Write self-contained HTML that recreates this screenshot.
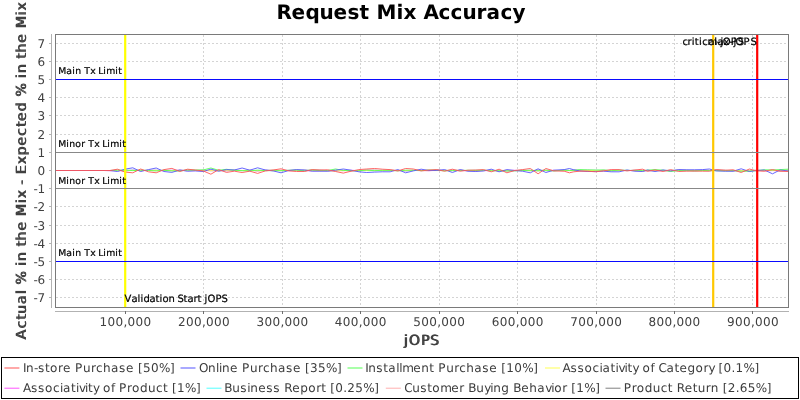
<!DOCTYPE html>
<html lang="en"><head><meta charset="utf-8"><title>Request Mix Accuracy</title>
<style>html,body{margin:0;padding:0;background:#fff}body{width:800px;height:400px;overflow:hidden}svg{display:block;will-change:transform}text{font-family:'DejaVu Sans','Liberation Sans',sans-serif;text-rendering:geometricPrecision;font-kerning:none;white-space:pre}</style></head><body>
<svg width="800" height="400" viewBox="0 0 800 400">
<rect x="0" y="0" width="800" height="400" fill="#fff"/>
<g font-size="20" font-weight="bold" fill="#000">
<text x="276.4 291.4 305.4 319.4 333.4 347.4 359.4 369.4 376.4 396.4 403.4 416.4 423.4 438.4 450.4 462.4 476.4 486.4 500.4 512.4" y="19.2">Request Mix Accuracy</text>
</g>
<g stroke="#d4d4d4" stroke-width="1" stroke-dasharray="2,2" shape-rendering="crispEdges" fill="none">
<line x1="56" y1="297.5" x2="788" y2="297.5"/>
<line x1="56" y1="279.5" x2="788" y2="279.5"/>
<line x1="56" y1="261.5" x2="788" y2="261.5"/>
<line x1="56" y1="243.5" x2="788" y2="243.5"/>
<line x1="56" y1="225.5" x2="788" y2="225.5"/>
<line x1="56" y1="206.5" x2="788" y2="206.5"/>
<line x1="56" y1="188.5" x2="788" y2="188.5"/>
<line x1="56" y1="170.5" x2="788" y2="170.5"/>
<line x1="56" y1="152.5" x2="788" y2="152.5"/>
<line x1="56" y1="134.5" x2="788" y2="134.5"/>
<line x1="56" y1="115.5" x2="788" y2="115.5"/>
<line x1="56" y1="97.5" x2="788" y2="97.5"/>
<line x1="56" y1="79.5" x2="788" y2="79.5"/>
<line x1="56" y1="61.5" x2="788" y2="61.5"/>
<line x1="56" y1="43.5" x2="788" y2="43.5"/>
<line x1="125.5" y1="35" x2="125.5" y2="307"/>
<line x1="203.5" y1="35" x2="203.5" y2="307"/>
<line x1="282.5" y1="35" x2="282.5" y2="307"/>
<line x1="360.5" y1="35" x2="360.5" y2="307"/>
<line x1="439.5" y1="35" x2="439.5" y2="307"/>
<line x1="517.5" y1="35" x2="517.5" y2="307"/>
<line x1="596.5" y1="35" x2="596.5" y2="307"/>
<line x1="674.5" y1="35" x2="674.5" y2="307"/>
<line x1="752.5" y1="35" x2="752.5" y2="307"/>
</g>
<clipPath id="pc"><rect x="56" y="35" width="732" height="272"/></clipPath>
<g fill="none" stroke-width="0.9" stroke-linejoin="round" clip-path="url(#pc)">
<polyline stroke="#808080" points="56.0,170.5 104.0,170.5 110.0,170.6 117.5,170.4 125.0,170.8 132.8,170.2 140.6,170.7 148.5,170.3 156.2,170.3 164.0,170.4 171.9,170.5 179.8,170.3 187.5,170.3 195.3,170.5 203.1,170.2 210.9,170.7 218.7,170.6 226.5,170.7 234.3,170.3 242.1,170.6 249.8,170.3 257.6,170.8 265.4,170.3 273.2,170.3 281.0,170.6 288.8,170.5 296.6,170.4 304.4,170.2 312.2,170.2 319.9,170.2 327.7,170.7 335.5,170.8 343.3,170.4 351.1,170.8 358.9,170.7 366.7,170.3 374.5,170.2 382.3,170.6 390.1,170.4 397.9,170.4 405.6,170.8 413.4,170.4 421.2,170.5 429.0,170.6 436.8,170.2 444.6,170.5 452.4,170.3 460.2,170.3 468.0,170.7 475.8,170.7 483.5,170.6 491.3,170.3 499.1,170.8 506.9,170.8 514.7,170.7 522.5,170.3 530.3,170.7 538.1,170.2 545.9,170.5 553.6,170.8 564.2,170.3 569.4,170.5 573.8,170.2 579.9,170.3 587.8,170.8 595.6,170.8 603.5,170.3 611.2,170.7 619.1,170.5 627.0,170.6 634.9,170.3 642.6,170.8 647.5,170.7 655.0,170.7 663.1,170.6 670.6,170.7 678.8,170.2 686.2,170.3 694.4,170.8 702.5,170.4 709.4,170.5 716.2,170.2 725.6,170.4 733.1,170.8 741.2,170.8 749.4,170.4 756.2,170.4 764.4,170.6 772.5,170.4 780.0,170.8 788.0,170.4"/>
<polyline stroke="#ffafaf" points="56.0,170.5 104.0,170.5 110.0,170.5 117.5,170.3 125.0,170.7 132.8,170.5 140.6,170.5 148.5,170.5 156.2,170.4 164.0,170.6 171.9,170.7 179.8,170.6 187.5,170.3 195.3,170.5 203.1,170.6 210.9,170.7 218.7,170.6 226.5,170.4 234.3,170.5 242.1,170.5 249.8,170.6 257.6,170.7 265.4,170.7 273.2,170.4 281.0,170.6 288.8,170.4 296.6,170.3 304.4,170.5 312.2,170.7 319.9,170.7 327.7,170.6 335.5,170.7 343.3,170.6 351.1,170.7 358.9,170.5 366.7,170.5 374.5,170.4 382.3,170.7 390.1,170.4 397.9,170.5 405.6,170.6 413.4,170.4 421.2,170.7 429.0,170.6 436.8,170.5 444.6,170.6 452.4,170.6 460.2,170.6 468.0,170.6 475.8,170.7 483.5,170.4 491.3,170.6 499.1,170.4 506.9,170.4 514.7,170.5 522.5,170.6 530.3,170.5 538.1,170.7 545.9,170.6 553.6,170.6 564.2,170.5 569.4,170.7 573.8,170.6 579.9,170.7 587.8,170.6 595.6,170.6 603.5,170.4 611.2,170.3 619.1,170.5 627.0,170.4 634.9,170.6 642.6,170.4 647.5,170.4 655.0,170.5 663.1,170.4 670.6,170.5 678.8,170.3 686.2,170.4 694.4,170.3 702.5,170.5 709.4,170.4 716.2,170.5 725.6,170.6 733.1,170.4 741.2,170.5 749.4,170.6 756.2,170.3 764.4,170.7 772.5,170.5 780.0,170.6 788.0,170.4"/>
<polyline stroke="#55ffff" points="56.0,170.5 104.0,170.5 110.0,170.5 117.5,170.6 125.0,170.4 132.8,170.4 140.6,170.5 148.5,170.5 156.2,170.5 164.0,170.5 171.9,170.4 179.8,170.5 187.5,170.6 195.3,170.4 203.1,170.4 210.9,170.4 218.7,170.5 226.5,170.4 234.3,170.4 242.1,170.6 249.8,170.6 257.6,170.4 265.4,170.4 273.2,170.5 281.0,170.5 288.8,170.4 296.6,170.5 304.4,170.5 312.2,170.5 319.9,170.5 327.7,170.6 335.5,170.5 343.3,170.5 351.1,170.5 358.9,170.5 366.7,170.5 374.5,170.6 382.3,170.4 390.1,170.5 397.9,170.5 405.6,170.6 413.4,170.5 421.2,170.6 429.0,170.4 436.8,170.4 444.6,170.4 452.4,170.6 460.2,170.5 468.0,170.5 475.8,170.4 483.5,170.6 491.3,170.5 499.1,170.5 506.9,170.6 514.7,170.5 522.5,170.4 530.3,170.4 538.1,170.5 545.9,170.6 553.6,170.5 564.2,170.5 569.4,170.4 573.8,170.5 579.9,170.6 587.8,170.5 595.6,170.4 603.5,170.4 611.2,170.5 619.1,170.4 627.0,170.4 634.9,170.5 642.6,170.5 647.5,170.4 655.0,170.6 663.1,170.4 670.6,170.4 678.8,170.4 686.2,170.4 694.4,170.4 702.5,170.5 709.4,170.6 716.2,170.4 725.6,170.6 733.1,170.6 741.2,170.6 749.4,170.6 756.2,170.5 764.4,170.4 772.5,170.5 780.0,170.5 788.0,170.6"/>
<polyline stroke="#ff55ff" points="56.0,170.5 104.0,170.5 110.0,170.7 117.5,170.6 125.0,170.6 132.8,170.4 140.6,170.3 148.5,170.5 156.2,170.6 164.0,170.6 171.9,170.3 179.8,170.3 187.5,170.7 195.3,170.6 203.1,170.6 210.9,170.4 218.7,170.4 226.5,170.7 234.3,170.3 242.1,170.5 249.8,170.4 257.6,170.7 265.4,170.3 273.2,170.6 281.0,170.4 288.8,170.4 296.6,170.4 304.4,170.6 312.2,170.7 319.9,170.6 327.7,170.7 335.5,170.4 343.3,170.7 351.1,170.3 358.9,170.6 366.7,170.3 374.5,170.6 382.3,170.4 390.1,170.4 397.9,170.7 405.6,170.6 413.4,170.5 421.2,170.4 429.0,170.7 436.8,170.3 444.6,170.4 452.4,170.6 460.2,170.3 468.0,170.6 475.8,170.7 483.5,170.6 491.3,170.7 499.1,170.6 506.9,170.5 514.7,170.3 522.5,170.6 530.3,170.4 538.1,170.7 545.9,170.4 553.6,170.4 564.2,170.7 569.4,170.5 573.8,170.5 579.9,170.5 587.8,170.3 595.6,170.4 603.5,170.6 611.2,170.4 619.1,170.4 627.0,170.5 634.9,170.6 642.6,170.7 647.5,170.7 655.0,170.3 663.1,170.6 670.6,170.7 678.8,170.4 686.2,170.5 694.4,170.7 702.5,170.4 709.4,170.6 716.2,170.4 725.6,170.6 733.1,170.7 741.2,170.6 749.4,170.6 756.2,170.4 764.4,170.6 772.5,170.6 780.0,170.6 788.0,170.6"/>
<polyline stroke="#ffff55" points="56.0,170.5 104.0,170.5 110.0,170.5 117.5,170.5 125.0,170.6 132.8,170.5 140.6,170.4 148.5,170.5 156.2,170.6 164.0,170.4 171.9,170.6 179.8,170.5 187.5,170.5 195.3,170.4 203.1,170.4 210.9,170.5 218.7,170.6 226.5,170.4 234.3,170.4 242.1,170.5 249.8,170.4 257.6,170.6 265.4,170.5 273.2,170.4 281.0,170.4 288.8,170.6 296.6,170.4 304.4,170.6 312.2,170.4 319.9,170.5 327.7,170.6 335.5,170.6 343.3,170.6 351.1,170.5 358.9,170.5 366.7,170.6 374.5,170.5 382.3,170.5 390.1,170.6 397.9,170.6 405.6,170.5 413.4,170.4 421.2,170.5 429.0,170.4 436.8,170.6 444.6,170.4 452.4,170.5 460.2,170.4 468.0,170.5 475.8,170.6 483.5,170.5 491.3,170.6 499.1,170.6 506.9,170.6 514.7,170.5 522.5,170.4 530.3,170.6 538.1,170.6 545.9,170.5 553.6,170.5 564.2,170.6 569.4,170.5 573.8,170.6 579.9,170.5 587.8,170.5 595.6,170.5 603.5,170.4 611.2,170.5 619.1,170.5 627.0,170.5 634.9,170.5 642.6,170.6 647.5,170.6 655.0,170.4 663.1,170.5 670.6,170.6 678.8,170.5 686.2,170.5 694.4,170.6 702.5,170.6 709.4,170.4 716.2,170.5 725.6,170.6 733.1,170.5 741.2,170.6 749.4,170.6 756.2,170.4 764.4,170.5 772.5,170.5 780.0,170.6 788.0,170.4"/>
<polyline stroke="#55ff55" points="56.0,170.5 104.0,170.5 110.0,170.5 117.5,170.2 125.0,170.1 132.8,170.6 140.6,170.2 148.5,170.5 156.2,170.9 164.0,170.3 171.9,170.9 179.8,170.9 187.5,170.1 195.3,170.1 203.1,170.0 210.9,168.0 218.7,170.3 226.5,169.3 234.3,170.3 242.1,170.6 249.8,170.8 257.6,170.2 265.4,170.6 273.2,170.7 281.0,170.7 288.8,170.3 296.6,170.1 304.4,170.8 312.2,170.1 319.9,170.6 327.7,170.5 335.5,169.0 343.3,170.4 351.1,170.6 358.9,170.7 366.7,170.1 374.5,170.7 382.3,170.3 390.1,170.4 397.9,170.8 405.6,170.2 413.4,170.3 421.2,170.6 429.0,170.1 436.8,170.3 444.6,170.8 452.4,170.6 460.2,170.5 468.0,170.3 475.8,170.4 483.5,170.2 491.3,170.8 499.1,170.7 506.9,170.9 514.7,170.8 522.5,170.5 530.3,170.3 538.1,170.8 545.9,170.2 553.6,170.8 564.2,170.2 569.4,170.5 573.8,170.4 579.9,169.6 587.8,169.8 595.6,170.0 603.5,170.0 611.2,170.7 619.1,170.2 627.0,170.4 634.9,170.6 642.6,170.7 647.5,170.2 655.0,169.6 663.1,170.2 670.6,171.5 678.8,170.5 686.2,170.6 694.4,170.8 702.5,170.5 709.4,170.6 716.2,170.7 725.6,170.8 733.1,170.6 741.2,171.2 749.4,171.2 756.2,170.7 764.4,169.8 772.5,170.0 780.0,169.6 788.0,169.2"/>
<polyline stroke="#5555ff" points="56.0,170.5 104.0,170.5 110.0,170.5 117.5,171.5 125.0,169.2 132.8,167.8 140.6,171.5 148.5,169.6 156.2,168.0 164.0,171.5 171.9,172.4 179.8,170.0 187.5,171.2 195.3,170.9 203.1,171.5 210.9,169.2 218.7,171.2 226.5,169.6 234.3,170.0 242.1,168.0 249.8,170.2 257.6,167.8 265.4,170.0 273.2,170.9 281.0,172.8 288.8,170.5 296.6,169.6 304.4,170.0 312.2,171.2 319.9,171.2 327.7,171.2 335.5,170.2 343.3,169.0 351.1,170.2 358.9,171.8 366.7,172.5 374.5,172.1 382.3,171.8 390.1,171.8 397.9,169.6 405.6,172.8 413.4,170.9 421.2,169.2 429.0,170.5 436.8,170.5 444.6,169.6 452.4,172.5 460.2,169.6 468.0,171.2 475.8,171.5 483.5,170.9 491.3,169.2 499.1,171.8 506.9,169.6 514.7,170.5 522.5,171.2 530.3,172.8 538.1,168.8 545.9,172.5 553.6,170.2 564.2,169.6 569.4,168.5 573.8,169.8 579.9,170.9 587.8,171.5 595.6,171.5 603.5,171.2 611.2,171.8 619.1,171.8 627.0,170.0 634.9,171.2 642.6,171.5 647.5,170.0 655.0,171.5 663.1,170.0 670.6,170.9 678.8,169.6 686.2,169.8 694.4,169.8 702.5,169.6 709.4,169.0 716.2,170.9 725.6,171.2 733.1,171.2 741.2,168.8 749.4,171.5 756.2,170.5 764.4,170.0 772.5,173.8 780.0,170.0 788.0,170.9"/>
<polyline stroke="#ff5555" points="56.0,170.5 104.0,170.5 110.0,170.5 117.5,169.2 125.0,172.1 132.8,172.8 140.6,169.0 148.5,171.8 156.2,172.8 164.0,169.6 171.9,168.4 179.8,171.5 187.5,169.2 195.3,170.0 203.1,170.9 210.9,174.2 218.7,169.6 226.5,172.4 234.3,171.2 242.1,172.5 249.8,171.2 257.6,173.4 265.4,170.9 273.2,170.0 281.0,168.8 288.8,170.9 296.6,171.5 304.4,171.5 312.2,169.6 319.9,170.0 327.7,169.8 335.5,171.5 343.3,173.1 351.1,171.2 358.9,169.6 366.7,169.0 374.5,168.5 382.3,169.2 390.1,169.6 397.9,170.9 405.6,168.5 413.4,169.0 421.2,170.9 429.0,170.0 436.8,169.6 444.6,171.2 452.4,169.2 460.2,171.2 468.0,170.2 475.8,170.0 483.5,169.6 491.3,171.8 499.1,169.2 506.9,172.8 514.7,170.5 522.5,169.6 530.3,168.5 538.1,173.8 545.9,168.5 553.6,170.8 564.2,171.2 569.4,172.8 573.8,171.8 579.9,171.2 587.8,171.2 595.6,171.8 603.5,170.9 611.2,169.6 619.1,169.6 627.0,170.9 634.9,170.0 642.6,169.2 647.5,171.2 655.0,170.0 663.1,171.5 670.6,169.6 678.8,171.5 686.2,171.2 694.4,171.0 702.5,171.2 709.4,171.2 716.2,169.6 725.6,170.2 733.1,169.8 741.2,172.5 749.4,169.0 756.2,170.9 764.4,171.2 772.5,169.6 780.0,171.2 788.0,171.5"/>
</g>
<g font-size="10" fill="#000" stroke="#000" stroke-width="0.2">
<rect x="124.1" y="35" width="2.2" height="272" fill="#ffff00" stroke="none"/>
<text x="124.6 131.6 137.6 140.6 143.6 149.6 155.6 159.6 162.6 168.6 174.6 177.6 183.6 187.6 193.6 197.6 201.6 204.6 207.6 215.6 221.6" y="301.5">Validation Start jOPS</text>
<rect x="756.1" y="35" width="2.2" height="272" fill="#ff0000" stroke="none"/>
<text x="707.4 717.4 723.4 729.4 733.4 735.4 743.4 750.4" y="44.5">max-jOPS</text>
<rect x="712.1" y="35" width="2.2" height="272" fill="#ffc800" stroke="none"/>
<text x="682.4 687.6 691.7 694.8 698.9 702.2 708.5 714.2 716.8 720.4 722.7 730.7 737.7" y="44.5">critical-jOPS</text>
</g>
<g shape-rendering="crispEdges">
<rect x="56" y="79" width="732" height="1" fill="#0a0aff"/>
<rect x="56" y="261" width="732" height="1" fill="#0a0aff"/>
<rect x="56" y="152" width="732" height="1" fill="#888888"/>
<rect x="56" y="188" width="732" height="1" fill="#888888"/>
</g>
<g font-size="9.3" fill="#000" stroke="#000" stroke-width="0.2">
<text x="58.3 66.3 72.3 75.3 81.3 84.3 90.3 95.3 98.3 103.3 106.3 115.3 118.3" y="74">Main Tx Limit</text>
<text x="58.3 66.3 69.3 75.3 81.3 85.3 88.3 94.3 99.3 102.3 107.3 110.3 119.3 122.3" y="147">Minor Tx Limit</text>
<text x="58.3 66.3 69.3 75.3 81.3 85.3 88.3 94.3 99.3 102.3 107.3 110.3 119.3 122.3" y="184">Minor Tx Limit</text>
<text x="58.3 66.3 72.3 75.3 81.3 84.3 90.3 95.3 98.3 103.3 106.3 115.3 118.3" y="256">Main Tx Limit</text>
</g>
<rect x="55.5" y="34.5" width="733" height="273" fill="none" stroke="#7a7a7a" stroke-width="1" shape-rendering="crispEdges"/>
<g stroke="#b2b2b2" stroke-width="1" shape-rendering="crispEdges">
<line x1="51.5" y1="34" x2="51.5" y2="308"/>
<line x1="55" y1="311.5" x2="789" y2="311.5"/>
<line x1="49" y1="297.5" x2="52" y2="297.5"/>
<line x1="49" y1="279.5" x2="52" y2="279.5"/>
<line x1="49" y1="261.5" x2="52" y2="261.5"/>
<line x1="49" y1="243.5" x2="52" y2="243.5"/>
<line x1="49" y1="225.5" x2="52" y2="225.5"/>
<line x1="49" y1="206.5" x2="52" y2="206.5"/>
<line x1="49" y1="188.5" x2="52" y2="188.5"/>
<line x1="49" y1="170.5" x2="52" y2="170.5"/>
<line x1="49" y1="152.5" x2="52" y2="152.5"/>
<line x1="49" y1="134.5" x2="52" y2="134.5"/>
<line x1="49" y1="115.5" x2="52" y2="115.5"/>
<line x1="49" y1="97.5" x2="52" y2="97.5"/>
<line x1="49" y1="79.5" x2="52" y2="79.5"/>
<line x1="49" y1="61.5" x2="52" y2="61.5"/>
<line x1="49" y1="43.5" x2="52" y2="43.5"/>
</g>
<g stroke="#6e6e6e" stroke-width="1" shape-rendering="crispEdges">
<line x1="125.5" y1="311" x2="125.5" y2="314"/>
<line x1="203.5" y1="311" x2="203.5" y2="314"/>
<line x1="282.5" y1="311" x2="282.5" y2="314"/>
<line x1="360.5" y1="311" x2="360.5" y2="314"/>
<line x1="439.5" y1="311" x2="439.5" y2="314"/>
<line x1="517.5" y1="311" x2="517.5" y2="314"/>
<line x1="596.5" y1="311" x2="596.5" y2="314"/>
<line x1="674.5" y1="311" x2="674.5" y2="314"/>
<line x1="752.5" y1="311" x2="752.5" y2="314"/>
</g>
<g font-size="12" fill="#404040">
<text x="33.5 37.5" y="301.5">-7</text>
<text x="33.5 37.5" y="283.5">-6</text>
<text x="33.5 37.5" y="265.5">-5</text>
<text x="33.5 37.5" y="247.5">-4</text>
<text x="33.5 37.5" y="229.5">-3</text>
<text x="33.5 37.5" y="210.5">-2</text>
<text x="33.5 37.5" y="192.5">-1</text>
<text x="37.5" y="174.5">0</text>
<text x="37.5" y="156.5">1</text>
<text x="37.5" y="138.5">2</text>
<text x="37.5" y="119.5">3</text>
<text x="37.5" y="101.5">4</text>
<text x="37.5" y="83.5">5</text>
<text x="37.5" y="65.5">6</text>
<text x="37.5" y="47.5">7</text>
<text x="99.58 107.58 115.58 123.58 127.58 135.58 143.58" y="325.7">100,000</text>
<text x="178.01 186.01 194.01 202.01 206.01 214.01 222.01" y="325.7">200,000</text>
<text x="256.44 264.44 272.44 280.44 284.44 292.44 300.44" y="325.7">300,000</text>
<text x="334.87 342.87 350.87 358.87 362.87 370.87 378.87" y="325.7">400,000</text>
<text x="413.3 421.3 429.3 437.3 441.3 449.3 457.3" y="325.7">500,000</text>
<text x="491.73 499.73 507.73 515.73 519.73 527.73 535.73" y="325.7">600,000</text>
<text x="570.16 578.16 586.16 594.16 598.16 606.16 614.16" y="325.7">700,000</text>
<text x="648.59 656.59 664.59 672.59 676.59 684.59 692.59" y="325.7">800,000</text>
<text x="727.02 735.02 743.02 751.02 755.02 763.02 771.02" y="325.7">900,000</text>
</g>
<defs><filter id="ebx" x="-10%" y="-30%" width="120%" height="160%" color-interpolation-filters="sRGB"><feOffset in="SourceGraphic" dx="0.8" dy="0" result="o"/><feMerge><feMergeNode in="SourceGraphic"/><feMergeNode in="o"/></feMerge></filter><filter id="eby" x="-30%" y="-10%" width="160%" height="120%" color-interpolation-filters="sRGB"><feOffset in="SourceGraphic" dx="0" dy="-0.8" result="o"/><feMerge><feMergeNode in="SourceGraphic"/><feMergeNode in="o"/></feMerge></filter></defs>
<g font-size="14" fill="#404040">
<g filter="url(#ebx)"><text x="403.4 408.55 420.7 429.85" y="344.7">jOPS</text></g>
<g filter="url(#eby)"><g transform="translate(25.5,170.9) rotate(-90)"><text x="-168.8 -157.97 -149.14 -143.32 -133.49 -123.66 -118.83 -114 -100.18 -95.35 -90.52 -80.69 -75.87 -70.04 -60.21 -50.38 -45.55 -32.73 -27.9 -19.07 -14.24 -8.41 -3.59 6.24 15.07 24.9 34.73 43.55 49.38 59.21 69.04 73.87 87.69 92.52 97.35 107.18 112 117.83 127.66 137.49 142.32 155.14 159.97" y="0">Actual % in the Mix - Expected % in the Mix</text></g></g>
</g>
<rect x="1.5" y="357.5" width="797" height="41" fill="#fff" stroke="#000" stroke-width="1" shape-rendering="crispEdges"/>
<g font-size="12" fill="#3c3c3c">
<rect x="4.4" y="367.5" width="15.0" height="1.0" fill="#ff5555"/>
<text x="23 26 34 38 45 50 58 63 71 75 83 91 96 103 111 119 126 134 138 143 151 159 170" y="372">In-store Purchase [50%]</text>
<rect x="180.5" y="367.5" width="15.0" height="1.0" fill="#5555ff"/>
<text x="199 208 216 219 222 230 238 242 250 258 263 270 278 286 293 301 305 310 318 326 337" y="372">Online Purchase [35%]</text>
<rect x="347.5" y="367.5" width="15.0" height="1.0" fill="#55ff55"/>
<text x="365.3 368.3 376.3 383.3 388.3 396.3 399.3 402.3 413.3 421.3 429.3 434.3 438.3 446.3 454.3 459.3 466.3 474.3 482.3 489.3 497.3 501.3 506.3 514.3 522.3 533.3" y="372">Installment Purchase [10%]</text>
<rect x="545.0" y="367.5" width="15.0" height="1.0" fill="#ffff55"/>
<text x="562.6 570.6 577.6 584.6 592.6 599.6 602.6 610.6 615.6 618.6 624.6 627.6 632.6 638.6 642.6 650.6 654.6 658.6 666.6 674.6 679.6 687.6 695.6 703.6 708.6 714.6 718.6 723.6 731.6 735.6 743.6 754.6" y="372">Associativity of Category [0.1%]</text>
<rect x="4.4" y="387.7" width="15.0" height="1.0" fill="#ff55ff"/>
<text x="22.9 30.9 37.9 44.9 52.9 59.9 62.9 70.9 75.9 78.9 84.9 87.9 92.9 98.9 102.9 110.9 114.9 118.9 126.9 131.9 139.9 147.9 155.9 162.9 167.9 171.9 176.9 184.9 195.9" y="392">Associativity of Product [1%]</text>
<rect x="206.5" y="387.7" width="15.0" height="1.0" fill="#55ffff"/>
<text x="224.3 232.3 240.3 247.3 250.3 258.3 266.3 273.3 280.3 284.3 292.3 300.3 308.3 316.3 321.3 326.3 330.3 335.3 343.3 347.3 355.3 363.3 374.3" y="392">Business Report [0.25%]</text>
<rect x="385.8" y="387.7" width="15.0" height="1.0" fill="#ffafaf"/>
<text x="404.2 412.2 420.2 427.2 432.2 440.2 451.2 459.2 464.2 468.2 476.2 484.2 490.2 493.2 501.2 509.2 513.2 521.2 529.2 537.2 545.2 551.2 554.2 562.2 567.2 571.2 576.2 584.2 595.2" y="392">Customer Buying Behavior [1%]</text>
<rect x="605.5" y="387.7" width="15.0" height="1.0" fill="#808080"/>
<text x="623.8 631.8 636.8 644.8 652.8 660.8 667.8 672.8 676.8 684.8 692.8 697.8 705.8 710.8 718.8 722.8 727.8 735.8 739.8 747.8 755.8 766.8" y="392">Product Return [2.65%]</text>
</g>
</svg></body></html>
